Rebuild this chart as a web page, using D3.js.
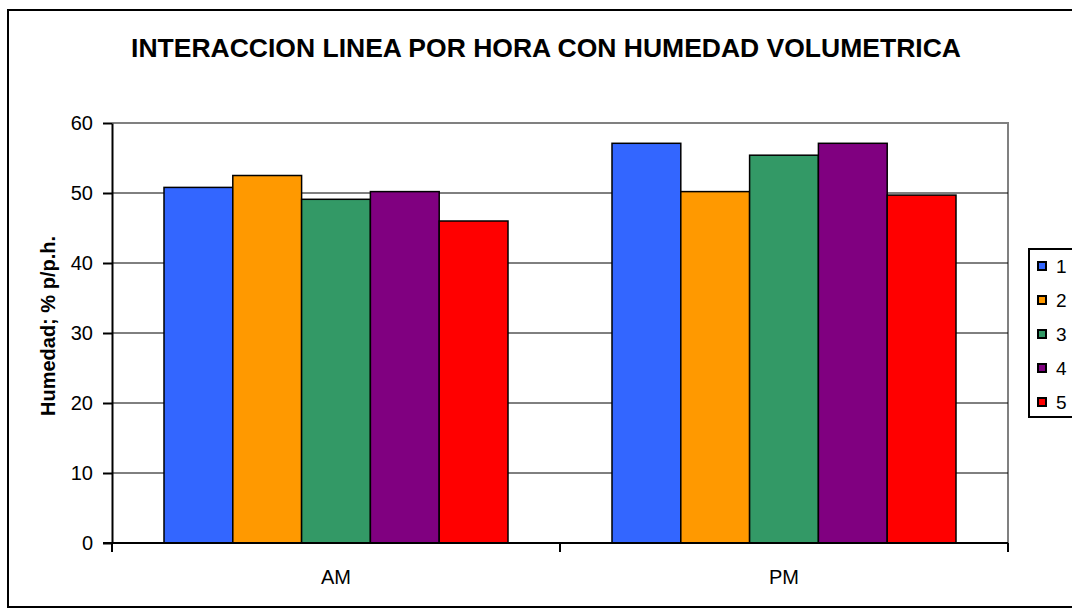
<!DOCTYPE html>
<html>
<head>
<meta charset="utf-8">
<script src="https://cdn.jsdelivr.net/npm/d3@7"></script>
<style>
  body { margin: 0; background: #fff; }
  svg { display: block; font-family: Arial, "Liberation Sans", sans-serif; }
</style>
</head>
<body>
<svg id="chart" width="1072" height="609"></svg>
<script>
// data
const horas = ["AM", "PM"];
const lineas = ["1", "2", "3", "4", "5"];
const valoresAM = [50.8, 52.5, 49.1, 50.2, 46.0];
const valoresPM = [57.1, 50.2, 55.4, 57.1, 49.7];
const colores = ["#3366FF", "#FF9900", "#339966", "#800080", "#FF0000"];
const yTicks = [0, 10, 20, 30, 40, 50, 60];

const tabla = horas.map((h, i) => ({
  hora: h,
  valores: (i == 0 ? valoresAM : valoresPM).map((v, j) => ({ linea: lineas[j], v: v }))
}));

const svg = d3.select("#chart");

// outer chart border
svg.append("rect")
  .attr("x", 8).attr("y", 10)
  .attr("width", 1100).attr("height", 597)
  .attr("fill", "white").attr("stroke", "black").attr("stroke-width", 2);

const pLeft = 112, pRight = 1008, pTop = 123, pBottom = 543;

const x0 = d3.scaleBand().domain(horas).range([pLeft, pRight]).paddingInner(0).paddingOuter(0);
const x1 = d3.scaleBand().domain(lineas).range([52, x0.bandwidth() - 52]);
const y = d3.scaleLinear().domain([0, 60]).range([pBottom, pTop]);

// title
svg.append("text")
  .attr("x", 546).attr("y", 57)
  .attr("text-anchor", "middle")
  .attr("font-size", 26.5).attr("font-weight", "bold")
  .text("INTERACCION LINEA POR HORA CON HUMEDAD VOLUMETRICA");

// plot area frame (top and right in grey)
svg.append("path")
  .attr("d", `M${pLeft},${pTop}H${pRight}V${pBottom}`)
  .attr("fill", "none").attr("stroke", "#808080").attr("stroke-width", 2);

// gridlines
svg.append("g")
  .selectAll("line")
  .data(yTicks.filter(t => t > 0 && t < 60))
  .join("line")
  .attr("x1", pLeft).attr("x2", pRight)
  .attr("y1", d => y(d)).attr("y2", d => y(d))
  .attr("stroke", "black").attr("stroke-width", 1);

// bars
svg.append("g")
  .selectAll("g")
  .data(tabla)
  .join("g")
  .attr("transform", d => `translate(${x0(d.hora)},0)`)
  .selectAll("rect")
  .data(d => d.valores)
  .join("rect")
  .attr("x", d => x1(d.linea))
  .attr("y", d => y(d.v))
  .attr("width", x1.bandwidth())
  .attr("height", d => y(0) - y(d.v))
  .attr("fill", (d, i) => colores[i])
  .attr("stroke", "black").attr("stroke-width", 1.5);

// y axis
const yAxis = svg.append("g")
  .attr("transform", `translate(${pLeft},0)`)
  .call(d3.axisLeft(y).tickValues(yTicks).tickSize(9).tickPadding(10).tickSizeOuter(0));
yAxis.select(".domain").attr("stroke-width", 2);
yAxis.selectAll(".tick line").attr("stroke-width", 2);
yAxis.selectAll(".tick text").attr("font-size", 20).attr("font-family", "Arial, 'Liberation Sans', sans-serif").attr("fill", "black");

// x axis with ticks at band edges
const xAxis = svg.append("g")
  .attr("transform", `translate(0,${pBottom})`);
xAxis.append("line")
  .attr("x1", pLeft - 9).attr("x2", pRight)
  .attr("stroke", "black").attr("stroke-width", 2);
xAxis.selectAll(".edge")
  .data(horas.map(h => x0(h)).concat([pRight]))
  .join("line")
  .attr("class", "edge")
  .attr("x1", d => d).attr("x2", d => d)
  .attr("y1", 0).attr("y2", 9)
  .attr("stroke", "black").attr("stroke-width", 2);
xAxis.selectAll("text")
  .data(horas)
  .join("text")
  .attr("x", d => x0(d) + x0.bandwidth() / 2)
  .attr("y", 41)
  .attr("text-anchor", "middle")
  .attr("font-size", 20)
  .text(d => d);

// y axis title
svg.append("text")
  .attr("transform", "translate(55,326) rotate(-90)")
  .attr("text-anchor", "middle")
  .attr("font-size", 20).attr("font-weight", "bold")
  .text("Humedad; % p/p.h.");

// legend
const leg = svg.append("g");
leg.append("rect")
  .attr("x", 1029).attr("y", 249)
  .attr("width", 80).attr("height", 168)
  .attr("fill", "white").attr("stroke", "black").attr("stroke-width", 2);
const item = leg.selectAll(".item")
  .data(lineas)
  .join("g")
  .attr("class", "item")
  .attr("transform", (d, i) => `translate(1038,${266 + i * 34})`);
item.append("rect")
  .attr("x", 0).attr("y", -4)
  .attr("width", 8).attr("height", 8)
  .attr("fill", (d, i) => colores[i])
  .attr("stroke", "black").attr("stroke-width", 2);
item.append("text")
  .attr("x", 18).attr("y", 7)
  .attr("font-size", 19)
  .text(d => d);
</script>
</body>
</html>
